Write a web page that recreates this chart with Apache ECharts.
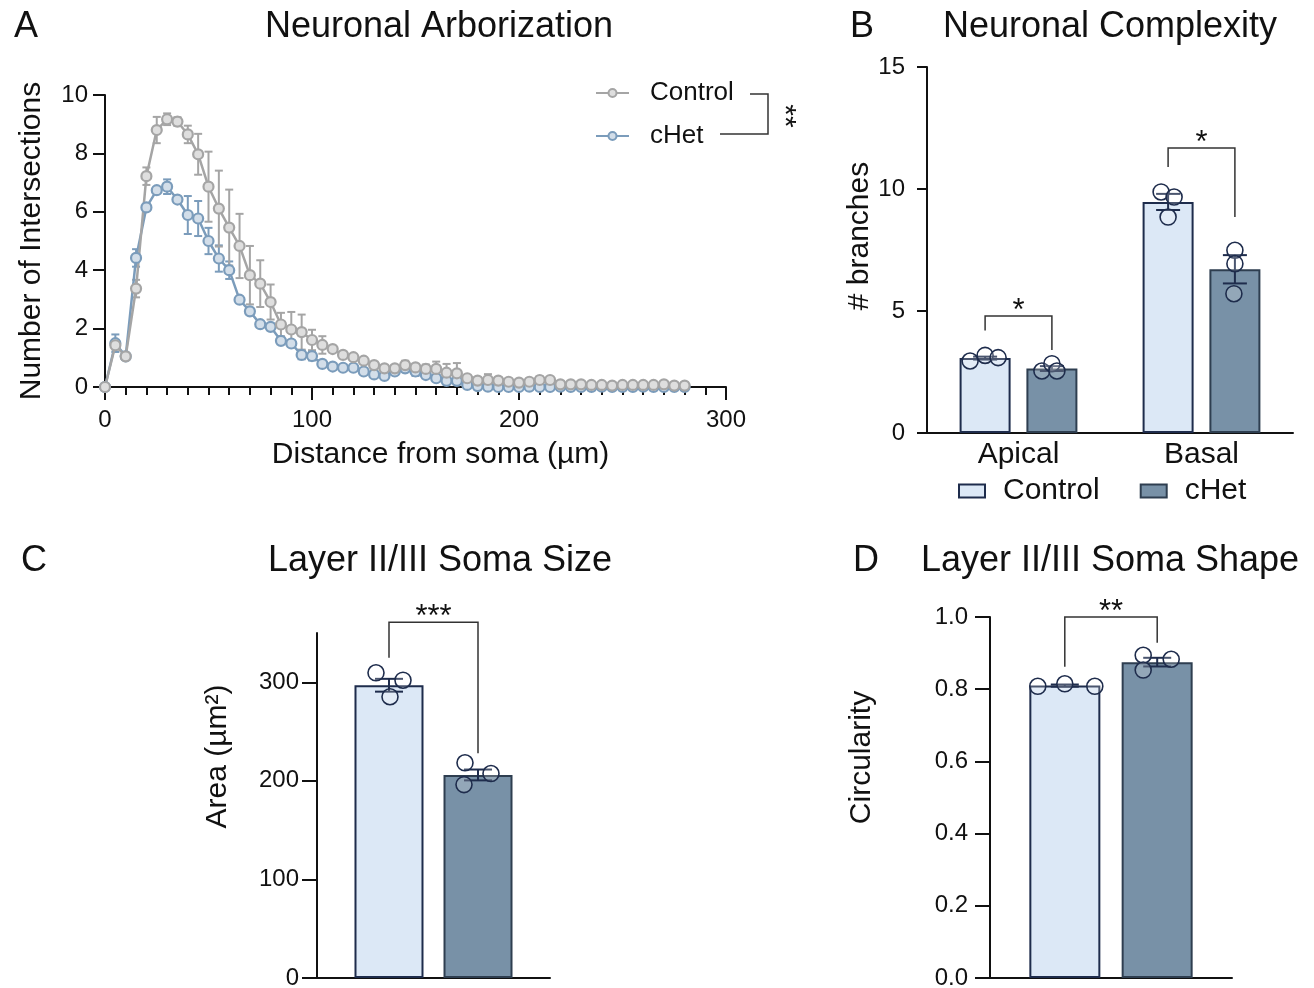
<!DOCTYPE html>
<html>
<head>
<meta charset="utf-8">
<title>Neuronal morphology</title>
<script src="https://cdn.jsdelivr.net/npm/echarts@6.0.0/dist/echarts.min.js"></script>
<style>
  html, body { margin: 0; padding: 0; background: #fff; }
  #chart { width: 1314px; height: 988px; }
</style>
</head>
<body>
<div id="chart"></div>
<script>
// ---- A: Sholl analysis (mean +/- SEM per 5 um shell)
const distances = [
  0, 5, 10, 15, 20, 25, 30, 35, 40, 45,
  50, 55, 60, 65, 70, 75, 80, 85, 90, 95,
  100, 105, 110, 115, 120, 125, 130, 135, 140, 145,
  150, 155, 160, 165, 170, 175, 180, 185, 190, 195,
  200, 205, 210, 215, 220, 225, 230, 235, 240, 245,
  250, 255, 260, 265, 270, 275, 280
];
const controlMean = [
  0, 1.43, 1.05, 3.37, 7.22, 8.8, 9.17, 9.09, 8.65, 7.97,
  6.86, 6.11, 5.46, 4.83, 3.83, 3.54, 2.91, 2.14, 1.97, 1.88,
  1.61, 1.44, 1.30, 1.10, 1.02, 0.90, 0.75, 0.64, 0.64, 0.75,
  0.67, 0.62, 0.62, 0.49, 0.47, 0.30, 0.22, 0.24, 0.22, 0.18,
  0.15, 0.18, 0.24, 0.24, 0.09, 0.09, 0.09, 0.07, 0.07, 0.05,
  0.07, 0.07, 0.07, 0.07, 0.09, 0.05, 0.05
];
const controlSem = [
  0, 0.15, 0.1, 0.3, 0.3, 0.45, 0.2, 0.15, 0.3, 0.7,
  1.2, 1.3, 1.3, 1.1, 1.0, 0.8, 0.6, 0.4, 0.6, 0.6,
  0.35, 0.3, 0.1, 0.1, 0.1, 0.1, 0.1, 0.1, 0.1, 0.15,
  0.12, 0.15, 0.25, 0.3, 0.35, 0.1, 0.1, 0.2, 0.1, 0.1,
  0.08, 0.1, 0.12, 0.1, 0.05, 0.05, 0.04, 0.04, 0.04, 0.04,
  0.04, 0.04, 0.04, 0.04, 0.04, 0.04, 0.04
];
const chetMean = [
  0, 1.5, 1.05, 4.42, 6.15, 6.74, 6.86, 6.42, 5.89, 5.77,
  5.0, 4.4, 4.0, 2.99, 2.59, 2.15, 2.06, 1.58, 1.49, 1.10,
  1.06, 0.79, 0.70, 0.66, 0.66, 0.53, 0.43, 0.38, 0.53, 0.64,
  0.53, 0.41, 0.30, 0.21, 0.21, 0.07, 0.03, 0.01, 0, 0,
  0, 0.01, 0, 0, 0.01, 0, 0, 0, 0.01, 0,
  0, 0, 0.01, 0, 0, 0, 0
];
const chetSem = [
  0, 0.3, 0.1, 0.3, 0.1, 0.1, 0.25, 0.1, 0.65, 0.6,
  0.45, 0.45, 0.3, 0.1, 0.1, 0.1, 0.1, 0.1, 0.1, 0.15,
  0.15, 0.1, 0.08, 0.08, 0.08, 0.08, 0.08, 0.08, 0.1, 0.1,
  0.15, 0.08, 0.08, 0.06, 0.06, 0.05, 0.03, 0.02, 0.02, 0.02,
  0.02, 0.02, 0.02, 0.02, 0.02, 0.02, 0.02, 0.02, 0.02, 0.02,
  0.02, 0.02, 0.02, 0.02, 0.02, 0.02, 0.02
];

// ---- B: branch counts
const compartments = ['Apical', 'Basal'];
const branchControl = [3.07, 9.47];
const branchChet = [2.64, 6.71];
const branchControlSem = [0.06, 0.33];
const branchChetSem = [0.1, 0.58];
const branchControlCells = [[2.95, 3.18, 3.09], [9.88, 9.67, 8.85]];
const branchChetCells = [[2.54, 2.84, 2.54], [7.49, 6.94, 5.71]];
// bracket: [category, top, left foot, right foot]
const branchSig = [[0, 4.8, 4.2, 3.4], [1, 11.68, 10.9, 8.85]];
const branchSigLabels = ['*', '*'];

// ---- C: soma area
const areaControl = [297];
const areaChet = [206];
const areaControlSem = [6.5];
const areaChetSem = [5.5];
const areaControlCells = [[309.6, 302.1, 285.3]];
const areaChetCells = [[218.3, 207.4, 196.2]];
const areaTicks = [0, 100, 200, 300];
const areaSig = [[0, 361, 325, 228]];
const areaSigLabels = ['***'];

// ---- D: circularity
const circControl = [0.81];
const circChet = [0.875];
const circControlSem = [0.003];
const circChetSem = [0.012];
const circControlCells = [[0.808, 0.815, 0.808]];
const circChetCells = [[0.894, 0.883, 0.853]];
const circSig = [[0, 1.0, 0.862, 0.929]];
const circSigLabels = ['**'];

const FONT = '"Liberation Sans", Arial, Helvetica, sans-serif';
const INK = '#111';
const GRAY = '#a5a5a5';
const BLUE = '#7b9cbb';
const LIGHT = '#dce8f6';
const DARK = '#7891a7';
const NAVY = '#1e2c4c';
const SLATE = '#2e3e50';

// horizontal jitter of the individual cells (px)
const jitterB = { c: [[-15, 0, 13], [-7, 6, 0]], h: [[-10, 0, 5], [0, 0, -1]] };
const jitterC = { c: [[-13, 14, 1]], h: [[-13, 13, -14]] };
const jitterD = { c: [[-27, 0, 30]], h: [[-14, 14, -14]] };

const chart = echarts.init(document.getElementById('chart'));

function errorSeries(name, xs, means, sems, color) {
  return {
    type: 'custom',
    name: name,
    xAxisIndex: 0,
    yAxisIndex: 0,
    z: 2,
    silent: true,
    data: xs.map((x, i) => [x, means[i], sems[i]]),
    encode: { x: 0, y: 1 },
    renderItem: function (params, api) {
      const m = api.value(1), s = api.value(2);
      if (!(s > 0)) return null;
      const hi = api.coord([api.value(0), m + s]);
      const lo = api.coord([api.value(0), m - s]);
      const st = { stroke: color, lineWidth: 2 };
      return {
        type: 'group',
        children: [
          { type: 'line', shape: { x1: hi[0], y1: hi[1], x2: lo[0], y2: lo[1] }, style: st },
          { type: 'line', shape: { x1: hi[0] - 4, y1: hi[1], x2: hi[0] + 4, y2: hi[1] }, style: st },
          { type: 'line', shape: { x1: lo[0] - 4, y1: lo[1], x2: lo[0] + 4, y2: lo[1] }, style: st }
        ]
      };
    }
  };
}

function lineSeries(name, means, color, fill) {
  return {
    type: 'line',
    name: name,
    xAxisIndex: 0,
    yAxisIndex: 0,
    z: 3,
    color: color,
    data: distances.map((d, i) => [d, means[i]]),
    symbol: 'circle',
    symbolSize: 10,
    lineStyle: { color: color, width: 2.5 },
    itemStyle: { color: fill, borderColor: color, borderWidth: 2.2 },
    emphasis: { disabled: true }
  };
}

function barSeries(name, idx, values, fill, border, width, gap) {
  return {
    type: 'bar',
    name: name,
    xAxisIndex: idx,
    yAxisIndex: idx,
    data: values,
    barWidth: width,
    barGap: gap,
    z: 2,
    silent: true,
    itemStyle: { color: fill, borderColor: border, borderWidth: 2 }
  };
}

function cellSeries(idx, means, sems, cells, offset, jit, capW) {
  return {
    type: 'custom',
    name: 'cells',
    xAxisIndex: idx,
    yAxisIndex: idx,
    z: 4,
    silent: true,
    data: means.map((m, i) => [i, m, sems[i], cells[i][0], cells[i][1], cells[i][2]]),
    encode: { x: 0, y: 1 },
    renderItem: function (params, api) {
      const c = api.value(0), m = api.value(1), s = api.value(2);
      const cx = api.coord([c, m])[0] + offset;
      const yHi = api.coord([c, m + s])[1];
      const yLo = api.coord([c, m - s])[1];
      const st = { stroke: NAVY, lineWidth: 2 };
      const kids = [
        { type: 'line', shape: { x1: cx, y1: yHi, x2: cx, y2: yLo }, style: st },
        { type: 'line', shape: { x1: cx - capW / 2, y1: yHi, x2: cx + capW / 2, y2: yHi }, style: st },
        { type: 'line', shape: { x1: cx - capW / 2, y1: yLo, x2: cx + capW / 2, y2: yLo }, style: st }
      ];
      for (let k = 0; k < 3; k++) {
        const y = api.coord([c, api.value(3 + k)])[1];
        kids.push({
          type: 'circle',
          shape: { cx: cx + jit[params.dataIndex][k], cy: y, r: 8 },
          style: { fill: 'rgba(255,255,255,0.2)', stroke: NAVY, lineWidth: 1.6 }
        });
      }
      return { type: 'group', children: kids };
    }
  };
}

function sigSeries(idx, items, labels, offset) {
  return {
    type: 'custom',
    name: 'sig',
    xAxisIndex: idx,
    yAxisIndex: idx,
    z: 5,
    silent: true,
    data: items,
    encode: { x: 0, y: 1 },
    renderItem: function (params, api) {
      const c = api.value(0);
      const top = api.coord([c, api.value(1)]);
      const xl = top[0] - offset, xr = top[0] + offset;
      const yl = api.coord([c, api.value(2)])[1];
      const yr = api.coord([c, api.value(3)])[1];
      return {
        type: 'group',
        children: [
          { type: 'polyline', shape: { points: [[xl, yl], [xl, top[1]], [xr, top[1]], [xr, yr]] },
            style: { stroke: '#333', lineWidth: 1.5, fill: null } },
          { type: 'text', style: { text: labels[params.dataIndex], x: (xl + xr) / 2, y: top[1] + 11,
            align: 'center', verticalAlign: 'bottom', fontSize: 31, fontFamily: FONT, fill: INK } }
        ]
      };
    }
  };
}

const axisLine = { show: true, lineStyle: { color: INK, width: 2 } };
const tickStyle = { color: INK, width: 2 };
const labelStyle = { color: INK, fontSize: 24, fontFamily: FONT };
const nameStyle = { color: INK, fontSize: 30, fontFamily: FONT };

function valueY(idx, min, max, interval, tickLen, margin, name, gap, shift, extra) {
  const ax = {
    type: 'value',
    gridIndex: idx,
    min: min,
    max: max,
    interval: interval,
    axisLine: axisLine,
    axisTick: { show: true, length: tickLen, lineStyle: tickStyle },
    axisLabel: Object.assign({ margin: margin }, labelStyle),
    splitLine: { show: false },
    name: name,
    nameLocation: 'middle',
    nameGap: gap,
    nameMoveOverlap: false,
    nameTextStyle: Object.assign({ padding: [0, 0, 0, shift] }, nameStyle)
  };
  return Object.assign(ax, extra || {});
}

function categoryX(idx, data, showLabels) {
  return {
    type: 'category',
    gridIndex: idx,
    data: data,
    axisLine: axisLine,
    axisTick: { show: false },
    axisLabel: Object.assign({ show: showLabels, margin: 7 }, labelStyle, { fontSize: 30 }),
    splitLine: { show: false }
  };
}

function heading(x, y, text) {
  return { type: 'text', x: x, y: y, style: { text: text, fontSize: 36, fontFamily: FONT, fill: INK, align: 'center', verticalAlign: 'middle' } };
}

const option = {
  backgroundColor: '#fff',
  animation: false,
  textStyle: { fontFamily: FONT },
  grid: [
    { left: 105, top: 95, width: 621, height: 292, outerBoundsMode: 'none' },
    { left: 927, top: 67, width: 366, height: 366, outerBoundsMode: 'none' },
    { left: 317, top: 633, width: 233, height: 345, outerBoundsMode: 'none' },
    { left: 990, top: 617, width: 242, height: 361, outerBoundsMode: 'none' }
  ],
  xAxis: [
    {
      type: 'value',
      gridIndex: 0,
      min: 0,
      max: 300,
      interval: 100,
      axisLine: axisLine,
      axisTick: { show: true, length: 13, lineStyle: tickStyle },
      minorTick: { show: true, splitNumber: 10, length: 8, lineStyle: tickStyle },
      axisLabel: Object.assign({ margin: 21 }, labelStyle),
      splitLine: { show: false },
      name: 'Distance from soma (µm)',
      nameLocation: 'middle',
      nameGap: 53,
      nameMoveOverlap: false,
      nameTextStyle: Object.assign({ padding: [0, 0, 0, 50] }, nameStyle)
    },
    categoryX(1, compartments, true),
    categoryX(2, [''], false),
    categoryX(3, [''], false)
  ],
  yAxis: [
    valueY(0, 0, 10, 2, 12, 17, 'Number of Intersections', 58, 0),
    valueY(1, 0, 15, 5, 10, 22, '# branches', 52, 28),
    valueY(2, 0, 350, 100, 15, 18, 'Area (µm²)', 84, 98, {
      axisTick: { show: true, length: 15, lineStyle: tickStyle, customValues: areaTicks },
      axisLabel: Object.assign({ margin: 18, customValues: areaTicks }, labelStyle)
    }),
    valueY(3, 0, 1, 0.2, 15, 22, 'Circularity', 113, 80, {
      axisLabel: Object.assign({ margin: 22, formatter: v => v.toFixed(1) }, labelStyle)
    })
  ],
  legend: [
    {
      orient: 'vertical',
      left: 595,
      top: 80,
      padding: 0,
      itemWidth: 33,
      itemHeight: 10,
      itemGap: 17,
      selectedMode: false,
      data: ['Control', 'cHet'],
      textStyle: { color: INK, fontSize: 26, fontFamily: FONT, padding: [0, 0, 0, 16] }
    },
    {
      orient: 'horizontal',
      left: 958,
      top: 476,
      padding: 0,
      itemWidth: 26,
      itemHeight: 13,
      itemGap: 40,
      selectedMode: false,
      data: [
        { name: 'Control', icon: 'rect', itemStyle: { color: LIGHT, borderColor: NAVY, borderWidth: 2 } },
        { name: 'cHet', icon: 'rect', itemStyle: { color: DARK, borderColor: SLATE, borderWidth: 2 } }
      ],
      textStyle: { color: INK, fontSize: 30, fontFamily: FONT, padding: [0, 0, 0, 13] }
    }
  ],
  graphic: [
    heading(26, 27, 'A'),
    heading(439, 27, 'Neuronal Arborization'),
    heading(862, 27, 'B'),
    heading(1110, 27, 'Neuronal Complexity'),
    heading(34, 561, 'C'),
    heading(440, 561, 'Layer II/III Soma Size'),
    heading(866, 561, 'D'),
    heading(1110, 561, 'Layer II/III Soma Shape'),
    // legend bracket for the Sholl curves
    { type: 'polyline', shape: { points: [[750, 94], [768, 94], [768, 134], [720, 134]] }, style: { stroke: '#333', lineWidth: 1.5, fill: null } },
    { type: 'text', x: 784, y: 116, rotation: -Math.PI / 2, style: { text: '**', fontSize: 30, fontFamily: FONT, fill: INK, align: 'center', verticalAlign: 'middle' } }
  ],
  series: [
    errorSeries('cHet SEM', distances, chetMean, chetSem, BLUE),
    lineSeries('cHet', chetMean, BLUE, '#d3dee9'),
    errorSeries('Control SEM', distances, controlMean, controlSem, GRAY),
    lineSeries('Control', controlMean, GRAY, '#dedede'),

    barSeries('Control', 1, branchControl, LIGHT, NAVY, 51, '31%'),
    barSeries('cHet', 1, branchChet, DARK, SLATE, 51, '31%'),
    cellSeries(1, branchControl, branchControlSem, branchControlCells, -33.4, jitterB.c, 24),
    cellSeries(1, branchChet, branchChetSem, branchChetCells, 33.4, jitterB.h, 24),
    sigSeries(1, branchSig, branchSigLabels, 33.4),

    barSeries('Control', 2, areaControl, LIGHT, NAVY, 69, '29%'),
    barSeries('cHet', 2, areaChet, DARK, SLATE, 69, '29%'),
    cellSeries(2, areaControl, areaControlSem, areaControlCells, -44.5, jitterC.c, 28),
    cellSeries(2, areaChet, areaChetSem, areaChetCells, 44.5, jitterC.h, 28),
    sigSeries(2, areaSig, areaSigLabels, 44.5),

    barSeries('Control', 3, circControl, LIGHT, NAVY, 71, '30%'),
    barSeries('cHet', 3, circChet, DARK, SLATE, 71, '30%'),
    cellSeries(3, circControl, circControlSem, circControlCells, -46.2, jitterD.c, 28),
    cellSeries(3, circChet, circChetSem, circChetCells, 46.2, jitterD.h, 28),
    sigSeries(3, circSig, circSigLabels, 46.2)
  ]
};

chart.setOption(option);
</script>
</body>
</html>
